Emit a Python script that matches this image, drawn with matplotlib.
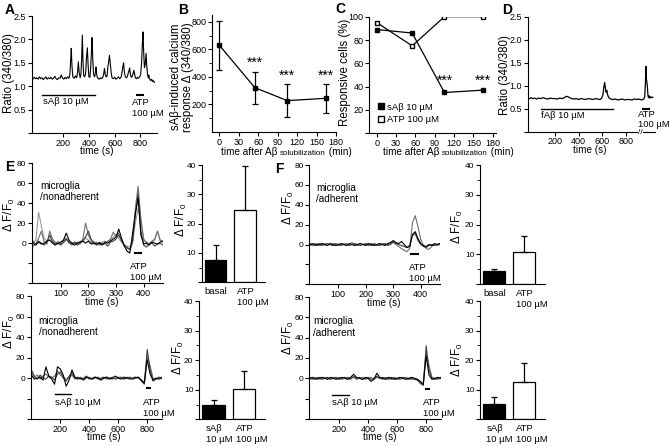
import numpy as np
import matplotlib
matplotlib.use('Agg')
import matplotlib.pyplot as plt
from matplotlib.offsetbox import TextArea, HPacker, AnchoredOffsetbox
from matplotlib.lines import Line2D

plt.rcParams['font.family'] = ['Liberation Sans', 'DejaVu Sans']
plt.rcParams['mathtext.fontset'] = 'custom'
plt.rcParams['mathtext.rm'] = 'Liberation Sans'
plt.rcParams['mathtext.it'] = 'Liberation Sans:italic'
plt.rcParams['axes.linewidth'] = 0.8

W, H = 669, 446

# ---- panel A: single cell ratio trace (sAβ then ATP)
a_time = [-45, -35, -25, -15, -5, 5, 15, 25, 35, 45, 55, 65, 75, 85, 95, 105, 115, 125, 135, 145,
          155, 165, 175, 185, 195, 205, 215, 225, 235, 245, 252, 258, 263, 268, 275, 285, 295, 305,
          312, 318, 324, 332, 338, 344, 349, 354, 360, 368, 375, 381, 388, 394, 400, 408, 414, 420,
          425, 430, 436, 445, 451, 456, 462, 470, 480, 490, 500, 510, 516, 521, 527, 534, 541, 547,
          553, 560, 566, 573, 580, 590, 600, 610, 620, 630, 640, 650, 657, 663, 670, 676, 684, 692,
          700, 706, 712, 717, 723, 730, 738, 745, 750, 755, 762, 770, 778, 786, 795, 803, 810, 816,
          821, 826, 832, 838, 845, 850, 856, 862, 866, 872, 880, 888, 895, 902, 910]
a_ratio = [1.17, 1.15, 1.19, 1.16, 1.18, 1.15, 1.20, 1.16, 1.18, 1.14, 1.17, 1.20, 1.15, 1.18, 1.16,
           1.19, 1.15, 1.17, 1.21, 1.16, 1.14, 1.18, 1.17, 1.24, 1.17, 1.15, 1.19, 1.16, 1.20, 1.17,
           1.25, 1.55, 1.81, 1.45, 1.20, 1.17, 1.22, 1.18, 1.30, 1.52, 1.30, 1.18, 1.25, 1.60, 2.09,
           1.55, 1.22, 1.20, 1.28, 1.60, 1.82, 1.45, 1.20, 1.19, 1.40, 1.75, 2.04, 1.60, 1.25, 1.20,
           1.30, 1.41, 1.22, 1.17, 1.15, 1.18, 1.16, 1.20, 1.28, 1.38, 1.25, 1.20, 1.21, 1.40, 1.50,
           1.66, 1.50, 1.30, 1.18, 1.16, 1.19, 1.15, 1.17, 1.20, 1.16, 1.19, 1.28, 1.40, 1.50, 1.30,
           1.20, 1.18, 1.21, 1.28, 1.33, 1.39, 1.25, 1.19, 1.22, 1.28, 1.34, 1.27, 1.18, 1.16, 1.19,
           1.17, 1.20, 1.25, 1.50, 1.90, 2.16, 1.75, 1.40, 1.45, 1.70, 1.45, 1.25, 1.18, 1.24, 1.16,
           1.12, 1.15, 1.10, 1.12, 1.08]

# ---- panel B / C: time after solubilization
sol_time = [0, 55, 105, 165]
b_resp = [632, 322, 228, 245]
b_err = [178, 115, 118, 105]
c_sab = [89, 86, 35, 37]
c_atp = [95, 75, 100, 100]

# ---- panel D: fAβ trace
d_time = [-30, -15, 0, 15, 30, 45, 60, 80, 100, 120, 140, 160, 180, 200, 220, 240, 260, 280, 295,
          310, 325, 340, 360, 380, 400, 420, 440, 460, 480, 500, 520, 540, 560, 580, 595, 605, 612,
          620, 626, 632, 638, 645, 655, 670, 690, 710, 730, 750, 770, 790, 810, 830, 850, 870, 890,
          905, 920, 935, 950, 958, 964, 968, 972, 976, 980, 985, 990, 996, 1002, 1010, 1018, 1026]
d_ratio = [0.73, 0.72, 0.74, 0.72, 0.73, 0.71, 0.73, 0.72, 0.74, 0.72, 0.71, 0.73, 0.72, 0.72, 0.71,
           0.73, 0.72, 0.74, 0.77, 0.76, 0.74, 0.72, 0.71, 0.72, 0.70, 0.72, 0.71, 0.70, 0.72, 0.71,
           0.70, 0.72, 0.71, 0.70, 0.73, 0.80, 0.95, 1.07, 0.95, 0.86, 0.90, 0.80, 0.74, 0.71, 0.70,
           0.71, 0.69, 0.70, 0.71, 0.69, 0.70, 0.70, 0.69, 0.71, 0.70, 0.71, 0.70, 0.69, 0.71, 0.76,
           1.05, 1.42, 1.15, 1.08, 1.00, 0.80, 0.74, 0.78, 0.73, 0.76, 0.74, 0.75]

# ---- panel E top: nonadherent, ATP only (10 s samples, 0-470 s)
e1_time = np.arange(0, 480, 10)
e1_black = [0, -2, 1, -1, 0, 2, 3, 0, -2, 0, 1, 3, 10, 3, 0, -2, 0, 1, 2, 0, 2, -1, 0, -1, 0,
            -2, 1, 0, 2, 4, 6, 14, 5, -3, -8, -10, 10, 30, 45, 8, -1, 0, -2, 1, 0, -1, 1, 2]
e1_dark = [-3, -1, 2, 0, -2, 1, 8, 2, -1, 0, -2, 1, 4, 0, -1, 1, -2, 0, 3, 6, 12, 4, 0, -2, 1,
           -1, 0, -3, 1, 2, 4, 8, 3, -2, -5, -6, 2, 28, 50, 12, -2, -4, -1, 0, -3, -1, 0, -2]
e1_mid = [2, -1, 5, 12, 1, -1, 12, 4, 1, -1, 0, 2, 5, 1, -2, 0, 1, -1, 4, 20, 8, 2, -1, 1, -2,
          0, -1, 2, 4, 11, 7, 10, 2, -3, -4, -7, 0, 35, 57, 25, 3, 1, -1, 2, 4, 12, 3, 1]
e1_light = [0, 3, 31, 17, 5, 2, 4, 1, 0, 2, -1, 0, 3, 2, 0, 1, -1, 2, 1, 5, 3, 0, 2, 0, -1,
            1, 2, 1, 3, 6, 9, 5, 1, -2, -3, -4, 1, 20, 35, 22, 5, -1, 0, 1, 3, 12, 2, 3]

# ---- panel E bottom: nonadherent, sAβ then ATP (20 s samples, 0-900 s)
e2_time = np.arange(0, 920, 20)
e2_black = [3, -1, 0, 1, -2, 11, 2, -1, -6, 11, 9, 3, -8, -2, 8, 1, -1, 0, -2, 1, 0, -1, 1,
            0, -2, 0, 1, -1, 0, 2, 0, -1, 1, 0, -1, 0, 1, 0, -2, -5, 18, 4, -2, 0, -1, 0]
e2_dark = [8, 2, -1, 3, 0, -1, 2, 1, -2, 4, 6, 0, -3, 2, 5, 0, 1, -1, 0, 2, -1, 0, 1,
           -1, 0, 1, -1, 0, 1, -1, 0, 1, -1, 0, 1, -1, 0, 1, -3, -6, 28, 8, -3, -1, 1, 0]
e2_light = [6, 1, 3, -1, 2, 4, 1, 0, 2, 7, 3, 1, -1, 0, 3, -1, 0, 1, -1, 0, 1, -1, 0,
            1, -1, 0, 1, 0, -1, 0, 1, 0, -1, 1, 0, -1, 0, 1, -2, -4, 22, 12, 0, -1, 0, 1]

# ---- panel F top: adherent, ATP only
f1_time = np.arange(0, 480, 10)
f1_black = [0, 1, -1, 0, 1, 0, -1, 1, 0, -1, 0, 1, 0, -1, 1, 0, -1, 0, 1, 0, -1, 1, 0, -1, 0,
            1, 0, -1, 1, 2, 4, 2, 1, 3, 0, -3, -2, 10, 13, 6, 1, -1, -2, 0, -1, 1, 0, 1]
f1_gray = [-1, 0, 1, -1, 0, 1, -1, 0, 1, 0, -1, 0, 1, -1, 0, 2, 0, -1, 1, 0, 0, -1, 1, 0, -1,
           0, 1, 0, 0, 1, 2, 0, -2, -4, -6, -7, -4, 22, 29, 18, 5, -1, -4, -5, -2, 0, -1, 0]
f1_dark = [1, -1, 0, 1, -1, 0, 1, 0, -1, 1, 0, -1, 0, 1, -1, 0, 1, 0, -1, 0, 1, 0, -1, 1, 0,
           -1, 0, 1, -1, 0, 3, 1, 0, -1, -2, -3, -1, 9, 11, 4, 0, -2, -3, -1, 0, -1, 0, 1]

# ---- panel F bottom: adherent, sAβ then ATP
f2_time = np.arange(0, 920, 20)
f2_black = [0, 1, -1, 0, 1, 0, -1, 1, 0, -1, 0, 1, 0, -1, 1, 4, 1, 0, -1, 1, 0, -3, -1,
            5, 1, 0, -1, 1, 0, -1, 0, 1, 0, -1, 0, 1, 0, -1, -3, -6, 22, 3, -1, 0, 1, 0]
f2_dark = [1, -1, 0, 1, -1, 0, 1, -1, 0, 1, -1, 0, 1, 0, -1, 2, 0, 1, -1, 0, 1, -1, 0,
           2, 0, 1, 0, -1, 1, 0, -1, 0, 1, 0, -1, 0, -1, -2, -5, -7, 32, 8, 0, -1, 0, 1]
f2_gray = [-1, 0, 1, -1, 0, 1, 0, -1, 1, 0, 1, -1, 0, 1, 0, 1, -1, 0, 1, -1, 0, 1, -1,
           1, 0, -1, 1, 0, -1, 1, 0, -1, 0, 1, 0, -1, 0, -1, -4, -5, 26, 12, 1, 0, -1, 0]

# ---- bar summaries (mean, error)
bar_e1 = [7.7, 24.8]
bar_e1_err = [5.0, 14.9]
bar_e2 = [4.9, 10.4]
bar_e2_err = [1.6, 6.1]
bar_f1 = [4.3, 10.8]
bar_f1_err = [0.9, 5.2]
bar_f2 = [5.2, 12.5]
bar_f2_err = [2.4, 6.6]

trace_colors = ['#000000', '#404040', '#6f6f6f', '#9c9c9c']

# font sizes: the source text is condensed, so horizontal text is set a bit smaller
TICK = 6.5
NOTE = 6.8
LABEL = 7.2

fig = plt.figure(figsize=(6.69, 4.46), dpi=100)


def px_axes(x0, y0, x1, y1):
    ax = fig.add_axes([x0 / W, 1 - y1 / H, (x1 - x0) / W, (y1 - y0) / H])
    ax.patch.set_visible(False)
    return ax


def style(ax, size=TICK):
    for s in ['top', 'right']:
        ax.spines[s].set_visible(False)
    ax.tick_params(direction='out', length=3, width=0.8, labelsize=size, pad=1)
    ax.tick_params(which='minor', direction='out', length=2, width=0.6)


def ftext(x, y, s, **kw):
    fig.text(x / W, 1 - y / H, s, **kw)


def ylabel(x, y, s, size=8.3, **kw):
    ftext(x, y, s, fontsize=size, rotation=90, ha='center', va='center', **kw)


def letter(s, x, y):
    ftext(x, y, s, fontsize=10, fontweight='bold', va='top', ha='left')


# ================= A
ax = px_axes(31.7, 16, 157, 133)
style(ax)
ax.plot(a_time, a_ratio, color='black', lw=0.8)
ax.set_xlim(-45, 930)
ax.set_ylim(0, 2.5)
ax.set_xticks([200, 400, 600, 800])
ax.set_yticks([0, 0.5, 1.0, 1.5, 2.0, 2.5])
ax.set_yticklabels(['', '0.5', '1.0', '1.5', '2.0', '2.5'])
ax.plot([39, 448], [0.81, 0.81], color='black', lw=1)
ax.text(45, 0.68, 'sAβ 10 µM', fontsize=NOTE, va='center')
ax.plot([775, 822], [0.81, 0.81], color='black', lw=1.5)
ax.text(735, 0.53, 'ATP\n100 µM', fontsize=NOTE, va='center', linespacing=1.3, clip_on=False)
ylabel(9.5, 73, 'Ratio (340/380)')
ftext(96.7, 151, 'time (s)', fontsize=LABEL, ha='center', va='center')
letter('A', 5, 3)

# ================= B
ax = px_axes(212, 15, 336, 132)
style(ax)
ax.errorbar(sol_time, b_resp, yerr=b_err, color='black', lw=0.9, marker='s', ms=3.5,
            capsize=2.5, elinewidth=0.9, capthick=0.9)
ax.set_xlim(-11, 180)
ax.set_ylim(0, 850)
ax.set_xticks([0, 30, 60, 90, 120, 150, 180])
ax.set_yticks([200, 400, 600, 800])
ax.set_yticks([100, 300, 500, 700], minor=True)
for tx, ty in zip(sol_time[1:], [500, 405, 405]):
    ax.text(tx, ty, '***', fontsize=10, ha='center', va='center')
ylabel(182, 77, 'sAβ-induced calcium\nresponse Δ (340/380)', linespacing=1.0)
letter('B', 178, 3)


def sol_label(x, y):
    box = HPacker(children=[TextArea('time after Aβ ', textprops=dict(fontsize=LABEL)),
                            TextArea('solubilization', textprops=dict(fontsize=5.8)),
                            TextArea(' (min)', textprops=dict(fontsize=LABEL))],
                  align='baseline', pad=0, sep=0)
    anc = AnchoredOffsetbox(loc='center', child=box, frameon=False, pad=0, borderpad=0,
                            bbox_to_anchor=(x / W, 1 - y / H), bbox_transform=fig.transFigure)
    fig.add_artist(anc)


sol_label(286, 152)

# ================= C
ax = px_axes(369.3, 16.7, 496, 133.3)
style(ax)
ax.plot(sol_time, c_sab, color='black', lw=0.9, marker='s', ms=3.5, mfc='black', mec='black')
ax.plot(sol_time, c_atp, color='black', lw=0.9, marker='s', ms=3.5, mfc='white', mec='black')
ax.set_xlim(-11.5, 185)
ax.set_ylim(0, 100)
ax.set_xticks([0, 30, 60, 90, 120, 150, 180])
ax.set_yticks([0, 20, 40, 60, 80, 100])
ax.set_yticklabels(['', '20', '40', '60', '80', '100'])
for tx in sol_time[2:]:
    ax.text(tx, 45, '***', fontsize=10, ha='center', va='center')
handles = [Line2D([], [], ls='none', marker='s', ms=4, mfc='black', mec='black'),
           Line2D([], [], ls='none', marker='s', ms=4, mfc='white', mec='black')]
ax.legend(handles, ['sAβ 10 µM', 'ATP 100 µM'], loc='lower left', bbox_to_anchor=(0.07, 0.08),
          frameon=False, fontsize=NOTE, handlelength=0.6, handletextpad=0.3, labelspacing=0.35,
          borderpad=0, borderaxespad=0)
ylabel(345, 72, 'Responsive cells (%)')
sol_label(448, 152)
letter('C', 335, 2)

# ================= D
ax = px_axes(527.7, 16.7, 655, 131.7)
style(ax)
ax.plot(d_time, d_ratio, color='black', lw=0.9)
ax.set_xlim(-30, 1045)
ax.set_ylim(0, 2.5)
ax.set_xticks([200, 400, 600, 800])
ax.set_yticks([0, 0.5, 1.0, 1.5, 2.0, 2.5])
ax.set_yticklabels(['', '0.5', '1.0', '1.5', '2.0', '2.5'])
ax.plot([79, 688], [0.49, 0.49], color='black', lw=1)
ax.text(85, 0.35, 'fAβ 10 µM', fontsize=NOTE, va='center')
ax.plot([947, 997], [0.49, 0.49], color='black', lw=1.5)
ax.text(900, 0.27, 'ATP\n100 µM', fontsize=NOTE, va='center', linespacing=1.2, clip_on=False)
ax.text(925, -0.02, '//', fontsize=6, ha='center', va='center', clip_on=False,
        bbox=dict(facecolor='white', edgecolor='none', pad=0.2))
ylabel(505, 75, 'Ratio (340/380)')
ftext(590, 150, 'time (s)', fontsize=LABEL, ha='center', va='center')
letter('D', 502, 3)


# ================= E / F traces
def trace_axes(box, t, traces, tmax, ticks, cell, cell_pos, sab, atp, ylab, xlab):
    ax = px_axes(*box)
    style(ax, 6)
    for i in list(range(len(traces)))[::-1]:
        ax.plot(t, traces[i], color=trace_colors[i], lw=0.8)
    ax.set_xlim(-5, tmax)
    ax.set_ylim(-40, 80)
    ax.set_xticks(ticks)
    ax.set_yticks([-40, -20, 0, 20, 40, 60, 80])
    ax.set_yticklabels(['', '', '0', '20', '40', '60', '80'])
    ax.tick_params(axis='x', labelsize=TICK)
    ax.text(cell_pos[0], cell_pos[1], cell, fontsize=7.2, va='top', linespacing=1.15)
    if sab is not None:
        ax.plot(sab[:2], [-16, -16], color='black', lw=1)
        ax.text(sab[0], -24, 'sAβ 10 µM', fontsize=NOTE, va='center')
    ax.plot(atp[:2], [-10, -10], color='black', lw=1.5)
    ax.text(atp[2], -29, 'ATP\n100 µM', fontsize=NOTE, va='center', linespacing=1.3, clip_on=False)
    ylabel(ylab[0], ylab[1], 'Δ F/F$_0$')
    ftext(xlab[0], xlab[1], 'time (s)', fontsize=LABEL, ha='center', va='center')
    return ax


def bar_axes(box, means, errs, labels, ylab):
    ax = px_axes(*box)
    style(ax, 6)
    xs = [0.22, 0.68]
    ax.bar(xs, means, width=0.34, color=['black', 'white'], edgecolor='black', linewidth=0.9)
    for x, m, e in zip(xs, means, errs):
        ax.errorbar([x], [m], yerr=[[0], [e]], color='black', lw=0.9, capsize=2.5, capthick=0.9)
    ax.set_xlim(0, 1)
    ax.set_ylim(0, 40)
    ax.set_yticks([0, 10, 20, 30, 40])
    ax.set_yticklabels(['', '10', '20', '30', '40'])
    ax.set_yticks([5, 15, 25, 35], minor=True)
    ax.set_xticks([])
    two = '\n' in labels[0]
    ax.text(xs[0] - 0.12 if two else xs[0], -0.04, labels[0], fontsize=NOTE,
            transform=ax.get_xaxis_transform(), va='top', ha='left' if two else 'center',
            linespacing=1.3)
    ax.text(xs[1] - 0.12, -0.04, labels[1], fontsize=NOTE, transform=ax.get_xaxis_transform(),
            va='top', ha='left', linespacing=1.3)
    ylabel(ylab[0], ylab[1], 'Δ F/F$_0$')
    return ax


trace_axes((31.7, 163.3, 163, 283), e1_time, [e1_black, e1_dark, e1_mid, e1_light], 470,
           [100, 200, 300, 400], 'microglia\n/nonadherent', (25, 62), None, (368, 392, 352),
           (9, 215), (101.7, 302))
bar_axes((201.7, 165, 265, 282.3), bar_e1, bar_e1_err, ['basal', 'ATP\n100 µM'], (181, 220))

trace_axes((30.7, 296.3, 161.7, 419), e2_time, [e2_black, e2_dark, e2_light], 900,
           [200, 400, 600, 800], 'microglia\n/nonadherent', (50, 61), (161, 270), (797, 820, 774),
           (9, 331.7), (103.3, 437.5))
bar_axes((199, 301, 265, 419.3), bar_e2, bar_e2_err, ['sAβ\n10 µM', 'ATP\n100 µM'], (178, 358))

trace_axes((309.3, 165, 440, 284.3), f1_time, [f1_black, f1_dark, f1_gray], 470,
           [100, 200, 300, 400], 'microglia\n/adherent', (20, 62), None, (366, 390, 357),
           (288, 208), (383.3, 303.5))
bar_axes((480, 165, 545, 284), bar_f1, bar_f1_err, ['basal', 'ATP\n100 µM'], (457, 226.7))

trace_axes((309.3, 297, 440.7, 419), f2_time, [f2_black, f2_dark, f2_gray], 900,
           [200, 400, 600, 800], 'microglia\n/adherent', (20, 61), (153, 265), (798, 820, 780),
           (288, 338), (380, 437.5))
bar_axes((480, 301, 545, 419.3), bar_f2, bar_f2_err, ['sAβ\n10 µM', 'ATP\n100 µM'], (457, 360))

letter('E', 5, 160)
letter('F', 275, 162)

fig.savefig('out.png', dpi=100)
